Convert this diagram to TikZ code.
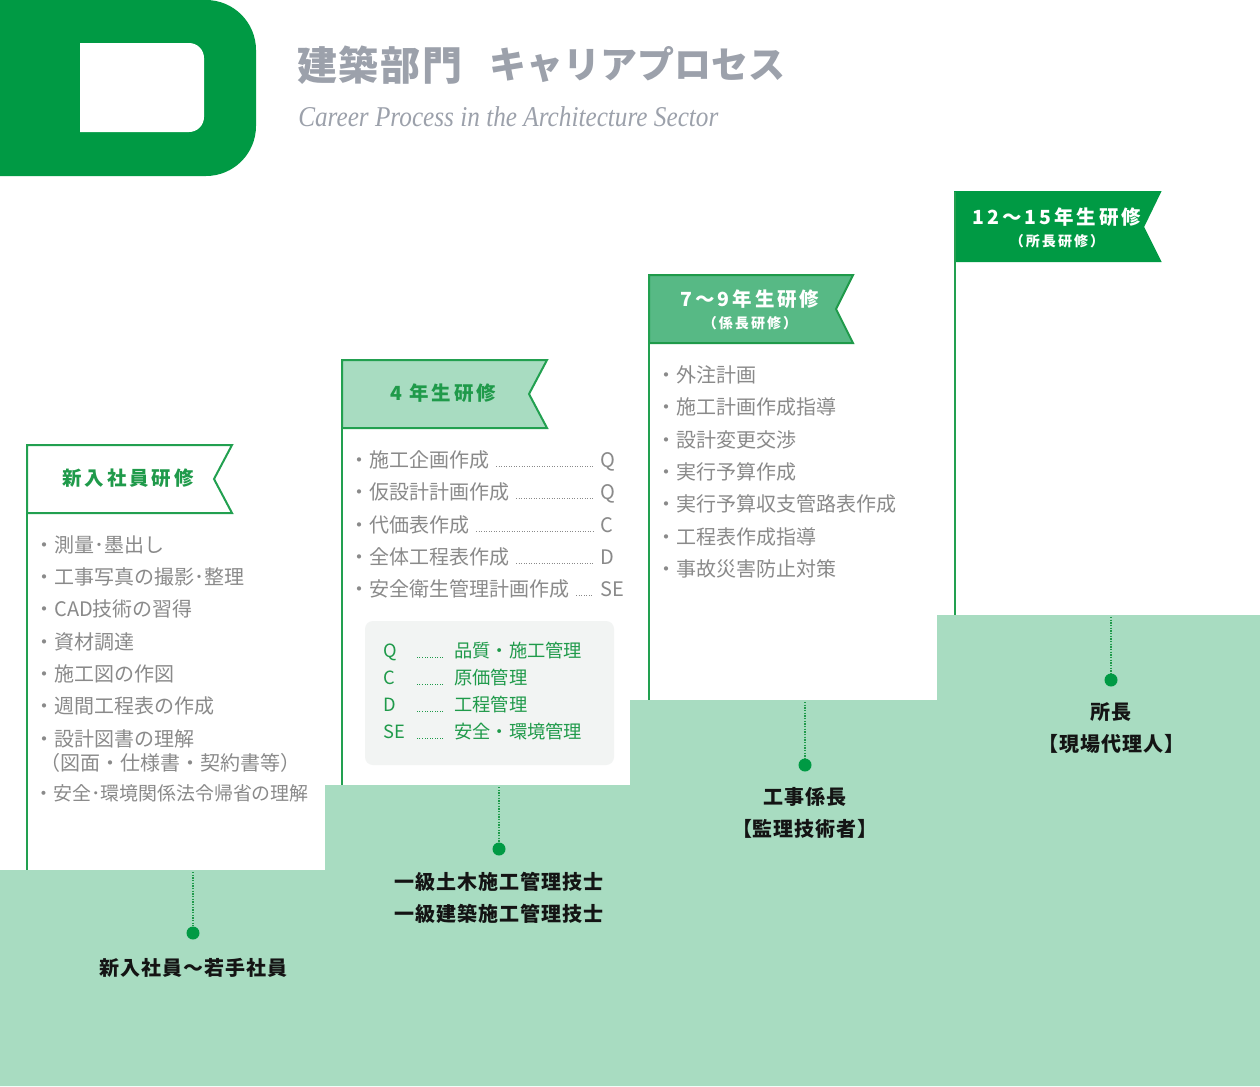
\documentclass[tikz,border=0pt]{standalone}
\usepackage{fontspec}
\setmainfont{Noto Sans CJK JP}
\newfontfamily\jpls[LetterSpace=15]{Noto Sans CJK JP}
\newfontfamily\jplt[LetterSpace=5]{Noto Sans CJK JP}
\newfontfamily\jptitle[LetterSpace=4]{Noto Sans CJK JP}
\newfontfamily\subfont[FakeStretch=0.88]{Liberation Serif}
\definecolor{dg}{HTML}{009A44}
\definecolor{mg}{HTML}{57B985}
\definecolor{lg}{HTML}{A8DCC1}
\definecolor{bd}{HTML}{22A050}
\definecolor{tg}{HTML}{1F9A4A}
\definecolor{ig}{HTML}{8A8A8A}
\definecolor{tt}{HTML}{9CA1AB}
\definecolor{lb}{HTML}{F2F4F3}
\tikzset{
  item/.style={anchor=west, inner sep=0pt, text height=13.2pt, text depth=1.8pt, text=ig, font=\fontsize{15pt}{18pt}\selectfont},
  leg/.style={anchor=west, inner sep=0pt, text height=12pt, text depth=1.7pt, text=tg, font=\fontsize{13.7pt}{16pt}\selectfont},
  leader/.style={draw=ig, line width=0.8pt, dash pattern=on 0.6pt off 1.3pt},
  legleader/.style={draw=tg, line width=0.8pt, dash pattern=on 0.6pt off 1.3pt},
  btext/.style={inner sep=0pt, font=\jpls\bfseries\fontsize{14.6pt}{17pt}\selectfont},
  bsub/.style={inner sep=0pt, font=\jpls\bfseries\fontsize{10.5pt}{13pt}\selectfont},
  lbl/.style={inner sep=0pt, align=center, text=black!92, font=\jplt\bfseries\fontsize{15pt}{24pt}\selectfont},
  stem/.style={draw=tg, line width=1pt, dash pattern=on 0.9pt off 1.1pt},
  dotmark/.style={circle, fill=dg, inner sep=0pt, minimum size=9.75pt},
  pline/.style={draw=bd, line width=1.5pt},
  banner/.style={line width=1.5pt, line join=miter}
}
\begin{document}
\begin{tikzpicture}[x=0.75pt,y=-0.75pt]
\useasboundingbox (0,0) rectangle (1260,1086);
\fill[white] (0,0) rectangle (1260,1086);

% logo
\fill[dg] (0,0) -- (206,0) arc[start angle=-90,end angle=0,radius=50] -- (256,126) arc[start angle=0,end angle=90,radius=50] -- (0,176) -- cycle;
\fill[white] (80,43) -- (189,43) arc[start angle=-90,end angle=0,radius=15] -- (204,117) arc[start angle=0,end angle=90,radius=15] -- (80,132) -- cycle;

% title
\node[anchor=west, inner sep=0pt, text=tt, font=\jptitle\bfseries\fontsize{30pt}{34pt}\selectfont] (t1) at (297,65) {建築部門};
\node[anchor=west, inner sep=0pt, text=tt, font=\bfseries\fontsize{27.75pt}{32pt}\selectfont] (t2) at (489,65) {キャリアプロセス};
\node[anchor=base west, inner sep=0pt, text=tt, font=\subfont\itshape\fontsize{21.5pt}{24pt}\selectfont] (t3) at (298,126) {Career Process in the Architecture Sector};

% stairs
\fill[lg] (0,870) -- (325,870) -- (325,785) -- (630,785) -- (630,700) -- (937,700) -- (937,615) -- (1260,615) -- (1260,1086) -- (0,1086) -- cycle;

% banners
\draw[banner, draw=bd, fill=white] (27,445) -- (232,445) -- (214,479) -- (232,513) -- (27,513) -- cycle;
\draw[banner, draw=bd, fill=lg] (342,360) -- (547,360) -- (529,394) -- (547,428) -- (342,428) -- cycle;
\draw[banner, draw=tg, fill=mg] (649,275) -- (853,275) -- (836,309) -- (853,343) -- (649,343) -- cycle;
\draw[banner, draw=dg, fill=dg] (955,192) -- (1160,192) -- (1143,227) -- (1160,261) -- (955,261) -- cycle;

\node[btext, text=tg] (b1) at (128,478) {新入社員研修};
\node[btext, text=tg] (b2) at (443,393) {4 年生研修};
\node[btext, text=white] (b3) at (750,299) {7〜9年生研修};
\node[bsub, text=white] (b3s) at (750,323) {（係長研修）};
\node[btext, text=white] (b4) at (1057,217) {12〜15年生研修};
\node[bsub, text=white] (b4s) at (1057,241) {（所長研修）};

% panel left lines
\draw[pline] (27,445) -- (27,870);
\draw[pline] (342,360) -- (342,785);
\draw[pline] (649,275) -- (649,700);
\draw[pline] (955,192) -- (955,615);

% column 1 items
\node[item] (a1) at (34,545) {・測量･墨出し};
\node[item] (a2) at (34,577) {・工事写真の撮影･整理};
\node[item] (a3) at (34,609) {・CAD技術の習得};
\node[item] (a4) at (34,642) {・資材調達};
\node[item] (a5) at (34,674) {・施工図の作図};
\node[item] (a6) at (34,706) {・週間工程表の作成};
\node[item] (a7) at (34,739) {・設計図書の理解};
\node[item] (a8) at (40,763) {（図面・仕様書・契約書等）};
\node[item, font=\fontsize{14.2pt}{18pt}\selectfont] (a9) at (34,793) {・安全･環境関係法令帰省の理解};

% column 2 items
\node[item] (c1) at (349,460) {・施工企画作成};
\node[item] (c2) at (349,492) {・仮設計計画作成};
\node[item] (c3) at (349,525) {・代価表作成};
\node[item] (c4) at (349,557) {・全体工程表作成};
\node[item] (c5) at (349,589) {・安全衛生管理計画作成};
\node[item] (q1) at (600,460) {Q};
\node[item] (q2) at (600,492) {Q};
\node[item] (q3) at (600,525) {C};
\node[item] (q4) at (600,557) {D};
\node[item] (q5) at (600,589) {SE};
\foreach \i in {1,...,5}{
  \draw[leader] ([xshift=5pt,yshift=0.6pt]c\i.base east) -- ([xshift=-5pt,yshift=0.6pt]q\i.base west);
}

% legend
\fill[lb, rounded corners=6pt] (365,621) rectangle (614,765);
\node[leg] (l1) at (383,651) {Q};
\node[leg] (l2) at (383,678) {C};
\node[leg] (l3) at (383,705) {D};
\node[leg] (l4) at (383,732) {SE};
\node[leg] (m1) at (454,651) {品質・施工管理};
\node[leg] (m2) at (454,678) {原価管理};
\node[leg] (m3) at (454,705) {工程管理};
\node[leg] (m4) at (454,732) {安全・環境管理};
\foreach \i in {1,...,4}{
  \draw[legleader] ([xshift=-8.2pt,yshift=0.6pt]m\i.base west) -- ++(-27,0);
}

% column 3 items
\node[item] (e1) at (656,375) {・外注計画};
\node[item] (e2) at (656,407) {・施工計画作成指導};
\node[item] (e3) at (656,440) {・設計変更交渉};
\node[item] (e4) at (656,472) {・実行予算作成};
\node[item] (e5) at (656,504) {・実行予算収支管路表作成};
\node[item] (e6) at (656,537) {・工程表作成指導};
\node[item] (e7) at (656,569) {・事故災害防止対策};

% stems and dots
\coordinate (s1) at (193,872);
\coordinate (s2) at (499,787);
\coordinate (s3) at (805,702);
\coordinate (s4) at (1111,617);
\node[dotmark] (d1) at (193,933) {};
\node[dotmark] (d2) at (499,849) {};
\node[dotmark] (d3) at (805,765) {};
\node[dotmark] (d4) at (1111,680) {};
\foreach \i in {1,...,4}{ \draw[stem] (s\i) -- (d\i); }

% bottom labels
\node[lbl] (r1) at (193,968) {新入社員〜若手社員};
\node[lbl] (r2) at (499,897.5) {一級土木施工管理技士\\一級建築施工管理技士};
\node[lbl] (r3) at (805,813) {工事係長\\【監理技術者】};
\node[lbl] (r4) at (1111,728) {所長\\【現場代理人】};
\end{tikzpicture}
\end{document}
